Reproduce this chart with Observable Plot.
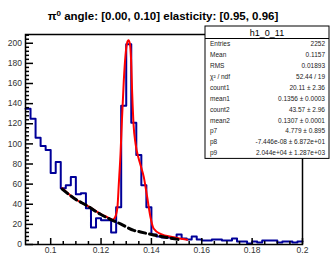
<!DOCTYPE html>
<html><head><meta charset="utf-8">
<script src="https://cdn.jsdelivr.net/npm/d3@7"></script>
<script src="https://cdn.jsdelivr.net/npm/@observablehq/plot@0.6"></script>
<style>body{margin:0;background:#fff}</style>
</head><body><div id="chart"></div>
<script>
// ---- data ----
const titleMain = "π";
const titleSup = "0";
const titleRest = " angle: [0.00, 0.10] elasticity: [0.95, 0.96]";
const histName = "h1_0_11";
const xMin = 0.09, xMax = 0.2, binWidth = 0.002;
const counts = [135,125,106,98,94,71,82,56,59,67,50,51,36,17,26,24,24,12,37,138,
                199,121,89,59,37,10,8,7,7,6,10,6,5,8,5,4,4,5,5,4,
                4,6,3,3,1,3,2,4,4,4,2,3,3,2,3];
const fitX = [0.10458,0.10986,0.1145,0.11978,0.12296,0.12455,0.12574,0.12654,0.12705,0.12773,
              0.12832,0.12904,0.12971,0.13031,0.13091,0.1315,0.1319,0.13237,0.13289,0.13371,
              0.13488,0.13567,0.13698,0.13833,0.13964,0.14095,0.14361,0.1489,0.15422];
const fitY = [56,45,38.7,30.5,26.5,24.5,28,38,60,90,
              125,163,188,200,203,199,185,150,120,100,
              86,79,67,47,27,15.6,10.6,7.3,4.7];
const bkgX = [0.10458,0.10986,0.1145,0.11978,0.12376,0.12773,0.13302,0.13567,0.14083,0.146,0.15076];
const bkgY = [55,45,38.5,30,25,20.5,14,12.5,9.5,7,5];
const xTicks = [0.1,0.12,0.14,0.16,0.18,0.2];
const xTickLabels = ["0.1","0.12","0.14","0.16","0.18","0.2"];
const xMinorTicks = [0.095,0.105,0.11,0.115,0.125,0.13,0.135,0.145,0.15,0.155,0.165,0.17,0.175,0.185,0.19,0.195];
const yTicks = [0,20,40,60,80,100,120,140,160,180,200];
const yMinorTicks = [4,8,12,16,24,28,32,36,44,48,52,56,64,68,72,76,84,88,92,96,104,108,112,116,
                     124,128,132,136,144,148,152,156,164,168,172,176,184,188,192,196,204,208];
const statLabels = ["Entries","Mean","RMS","χ² / ndf","count1","mean1","count2","mean2","p7","p8","p9"];
const statValues = ["2252","0.1157","0.01893","52.44 / 19","20.11 ± 2.36","0.1356 ± 0.0003",
                    "43.57 ± 2.96","0.1307 ± 0.0001","4.779 ± 0.895","-7.446e-08 ± 6.872e+01","2.044e+04 ± 1.287e+03"];

// ---- layout ----
const W = 331, H = 254, mL = 25, mR = 29, mT = 34, mB = 10;
const frameW = W - mL - mR, frameH = H - mT - mB;
const font = "'Liberation Sans', Arial, Helvetica, sans-serif";

const histPts = counts.map((c, i) => ({x: xMin + i * binWidth, y: c}));
histPts.push({x: xMax, y: counts[counts.length - 1]});
const fit = fitX.map((x, i) => ({x, y: fitY[i]}));
const bkg = bkgX.map((x, i) => ({x, y: bkgY[i]}));

const chart = Plot.plot({
  width: W, height: H,
  marginLeft: mL, marginRight: mR, marginTop: mT, marginBottom: mB,
  style: {fontFamily: font, background: "white", overflow: "visible"},
  x: {domain: [xMin, xMax], axis: null},
  y: {domain: [0, 208.7], axis: null},
  marks: [
    Plot.line(histPts, {x: "x", y: "y", curve: "step-after", stroke: "#000099", strokeWidth: 2}),
    Plot.line(fit, {x: "x", y: "y", curve: "monotone-x", stroke: "#ff0000", strokeWidth: 2}),
    Plot.line(bkg, {x: "x", y: "y", curve: "monotone-x", stroke: "#000", strokeWidth: 3, strokeDasharray: "7,4"}),
    Plot.frame({stroke: "#000", strokeWidth: 1.5}),
    Plot.tickY(yTicks, {y: d => d, insetRight: frameW - 8, stroke: "#000", strokeWidth: 1.5}),
    Plot.tickY(yMinorTicks, {y: d => d, insetRight: frameW - 4, stroke: "#000", strokeWidth: 1.5}),
    Plot.tickX(xTicks, {x: d => d, insetTop: frameH - 6, stroke: "#000", strokeWidth: 1.5}),
    Plot.tickX(xMinorTicks, {x: d => d, insetTop: frameH - 3, stroke: "#000", strokeWidth: 1.5}),
    Plot.text(yTicks, {y: d => d, text: d => String(d), frameAnchor: "left", textAnchor: "end", dx: -3.5, fontSize: 8.5, fill: "#333"}),
    Plot.text(xTicks, {x: d => d, text: (d, i) => xTickLabels[i], frameAnchor: "bottom", lineAnchor: "top", dy: 2.5, fontSize: 8.5, fill: "#333"})
  ]
});
document.getElementById("chart").appendChild(chart);

// ---- title and stats box ----
const svg = d3.select(chart);
const t = svg.append("text").attr("x", 163).attr("y", 19.5).attr("text-anchor", "middle")
  .attr("font-family", font).attr("font-size", 11.5).attr("font-weight", "bold").attr("fill", "#000");
t.append("tspan").text(titleMain);
t.append("tspan").attr("dy", -4).attr("font-size", 8).text(titleSup);
t.append("tspan").attr("dy", 4).text(titleRest);

const bx = 205, by = 26, bw = 124, titleH = 12.5, rowH = 10.9;
const bh = titleH + rowH * statLabels.length;
const g = svg.append("g").attr("font-family", font).attr("text-anchor", "start");
g.append("rect").attr("x", bx).attr("y", by).attr("width", bw).attr("height", bh)
  .attr("fill", "#fff").attr("stroke", "#000").attr("stroke-width", 1);
g.append("line").attr("x1", bx).attr("x2", bx + bw).attr("y1", by + titleH).attr("y2", by + titleH)
  .attr("stroke", "#000").attr("stroke-width", 1);
g.append("text").attr("x", bx + bw / 2).attr("y", by + 9.5).attr("text-anchor", "middle")
  .attr("font-size", 9).attr("fill", "#000").text(histName);
statLabels.forEach((lab, i) => {
  const yy = by + titleH + rowH * (i + 0.5) + 2.3;
  g.append("text").attr("x", bx + 5).attr("y", yy).attr("text-anchor", "start")
    .attr("font-size", 6.5).attr("fill", "#222").text(lab);
  g.append("text").attr("x", bx + bw - 4).attr("y", yy).attr("text-anchor", "end")
    .attr("font-size", 6.5).attr("fill", "#222").text(statValues[i]);
});
</script>
</body></html>
